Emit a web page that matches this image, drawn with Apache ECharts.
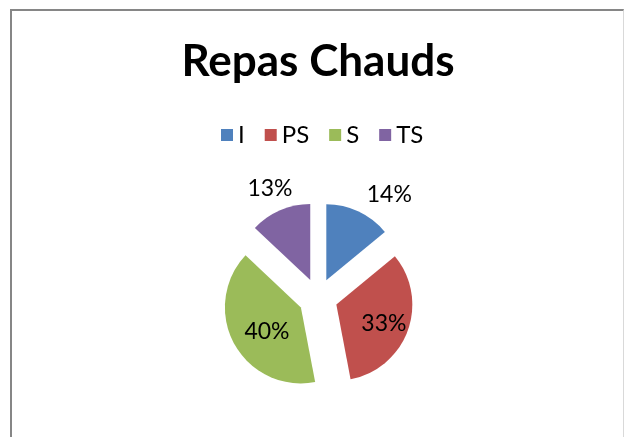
<!DOCTYPE html>
<html>
<head>
<meta charset="utf-8">
<script src="https://cdn.jsdelivr.net/npm/echarts@6/dist/echarts.min.js"></script>
<style>
  html, body { margin: 0; padding: 0; background: #fff; }
  #wrap { position: relative; width: 624px; height: 437px; overflow: hidden; }
  #frame {
    position: absolute; left: 10px; top: 9px; width: 611px; height: 440px;
    border-left: 2px solid #868686; border-top: 2px solid #868686; border-right: 1px solid #d9d9d9;
  }
  #chart { position: absolute; left: 0; top: 0; width: 624px; height: 437px; }
</style>
</head>
<body>
<div id="wrap">
  <div id="frame"></div>
  <div id="chart"></div>
</div>
<script>
const categories = ["I", "PS", "S", "TS"];
const values = [14, 33, 40, 13];
const colors = ["#4F81BD", "#C0504D", "#9BBB59", "#8064A2"];
// which slices keep their label outside the pie
const outsideLabel = [true, false, false, true];

const font = "Lato, 'Open Sans', sans-serif";

// small nudges so the labels sit where Excel put them
const labelNudge = [[0, 0], [9, 5], [2, 4], [22, 0]];

const chart = echarts.init(document.getElementById("chart"), null, { renderer: "canvas" });

chart.setOption({
  animation: false,
  title: {
    text: "Repas Chauds",
    left: 313,
    textAlign: "center",
    top: 35,
    textStyle: { fontFamily: font, fontWeight: "bold", fontSize: 44, color: "#000" }
  },
  legend: {
    data: categories,
    top: 118,
    left: 216,
    icon: "rect",
    itemWidth: 12,
    itemHeight: 12,
    itemGap: 20,
    textStyle: { fontFamily: font, fontSize: 24, color: "#000" }
  },
  series: [
    {
      type: "pie",
      center: [318, 298],
      radius: 76,
      startAngle: 90,
      clockwise: true,
      selectedMode: "multiple",
      selectedOffset: 19.5,
      emphasis: { disabled: true },
      label: {
        fontFamily: font,
        fontSize: 23,
        color: "#000",
        formatter: "{d}%"
      },
      labelLine: { show: false, length: 19, length2: 0 },
      labelLayout: function (params) {
        const n = labelNudge[params.dataIndex];
        return { dx: n[0], dy: n[1] };
      },
      data: categories.map(function (name, i) {
        return {
          name: name,
          value: values[i],
          selected: true,
          itemStyle: { color: colors[i] },
          label: { position: outsideLabel[i] ? "outside" : "inside", distanceToLabelLine: 0 },
          labelLine: { show: false, length: outsideLabel[i] ? (i === 3 ? 24 : 19) : 0, length2: 0 }
        };
      })
    }
  ]
});
</script>
</body>
</html>
